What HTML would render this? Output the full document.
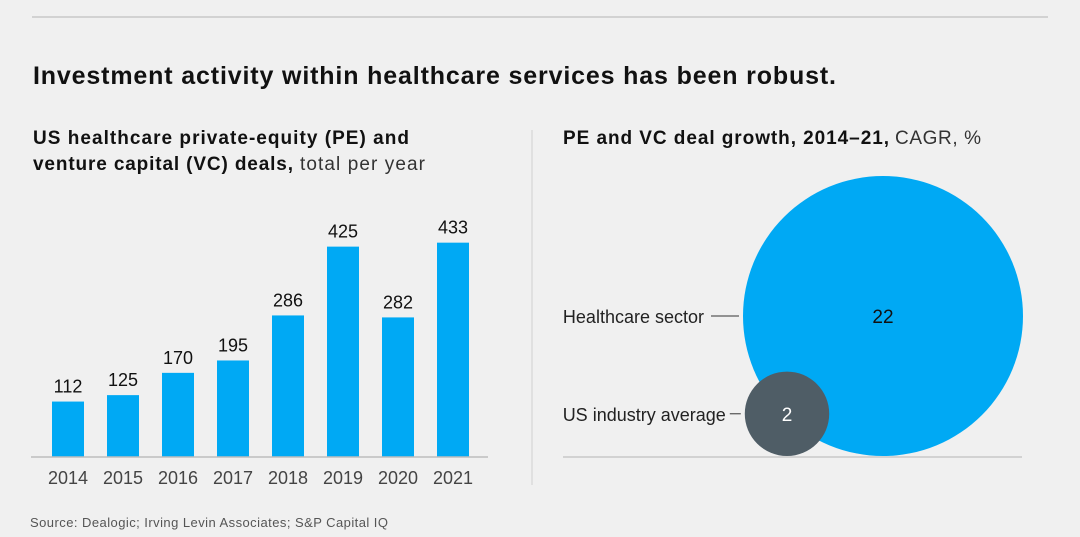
<!DOCTYPE html>
<html><head><meta charset="utf-8"><style>
body{margin:0;width:1080px;height:537px;background:#f0f0f0;font-family:"Liberation Sans",sans-serif;overflow:hidden}
</style></head><body>
<svg width="1080" height="537" style="position:absolute;left:0;top:0" font-family="Liberation Sans, sans-serif">
<line x1="32" y1="17" x2="1048" y2="17" stroke="#c8c8c8" stroke-width="1.5"/>
<text x="33" y="84" font-size="25" font-weight="bold" fill="#111" textLength="803" lengthAdjust="spacing">Investment activity within healthcare services has been robust.</text>
<g font-size="19" fill="#111">
<text x="33" y="144" font-weight="bold" textLength="376" lengthAdjust="spacing">US healthcare private-equity (PE) and</text>
<text x="33" y="170" font-weight="bold" textLength="260" lengthAdjust="spacing">venture capital (VC) deals,</text>
<text x="300" y="170" fill="#333" textLength="125" lengthAdjust="spacing">total per year</text>
</g>
<g font-size="19" fill="#111">
<text x="563" y="144" font-weight="bold" textLength="326" lengthAdjust="spacing">PE and VC deal growth, 2014–21,</text>
<text x="895" y="144" fill="#333" textLength="86" lengthAdjust="spacing">CAGR, %</text>
</g>
<line x1="532" y1="130" x2="532" y2="485" stroke="#d0d0d0" stroke-width="1"/>
<g id="bars"></g>
<line x1="31" y1="457" x2="488" y2="457" stroke="#bdbdbd" stroke-width="1.5"/>
<g id="bubbles"></g>
<line x1="563" y1="457" x2="1022" y2="457" stroke="#c8c8c8" stroke-width="1.5"/>
<text x="30" y="527" font-size="13" fill="#555" textLength="358" lengthAdjust="spacing">Source: Dealogic; Irving Levin Associates; S&amp;P Capital IQ</text>
</svg>
<script>
const years=["2014","2015","2016","2017","2018","2019","2020","2021"];
const deals=[112,125,170,195,286,425,282,433];
const bubbleLabels=["Healthcare sector","US industry average"];
const bubbleValues=[22,2];
const NS="http://www.w3.org/2000/svg";
function mk(t,a,p){const e=document.createElementNS(NS,t);for(const k in a)e.setAttribute(k,a[k]);p.appendChild(e);return e;}
const base=457,scale=0.495;
const xs=i=>52+i*55;const ys=v=>base-v*scale;
const g=document.getElementById('bars');
years.forEach((y,i)=>{
 const r=mk('rect',{x:xs(i),y:ys(deals[i]),width:32,height:base-ys(deals[i]),fill:'#00a9f4'},g);
 
 
 const v=mk('text',{x:xs(i)+16,y:ys(deals[i])-9,'text-anchor':'middle','font-size':18,fill:'#111'},g);v.textContent=deals[i];
 
 
 const t=mk('text',{x:xs(i)+16,y:484,'text-anchor':'middle','font-size':18,fill:'#444'},g);t.textContent=y;
 
 
});
const bg=document.getElementById('bubbles');
const maxR=140,bb=456;
const rr=v=>maxR*Math.sqrt(v/bubbleValues[0]);
const cxs=[883,787],fills=['#00a9f4','#4f5d66'],tc=['#111','#fff'];
bubbleValues.forEach((v,i)=>{
 const r=rr(v),cy=bb-r;
 const c=mk('circle',{cx:cxs[i],cy:cy,r:r,fill:fills[i]},bg);
 
 
 const t=mk('text',{x:cxs[i],y:cy+7,'text-anchor':'middle','font-size':19,fill:tc[i]},bg);t.textContent=v;
 
 
 const lx=cxs[i]-r-4;
 const ln=mk('line',{x1:lx-(i?11:28),y1:cy,x2:lx,y2:cy,stroke:'#333','stroke-width':1},bg);
 
 
 const l=mk('text',{x:lx-(i?15:35),y:cy+7,'text-anchor':'end','font-size':18,fill:'#222'},bg);l.textContent=bubbleLabels[i];
 
 
});
</script>
</body></html>
